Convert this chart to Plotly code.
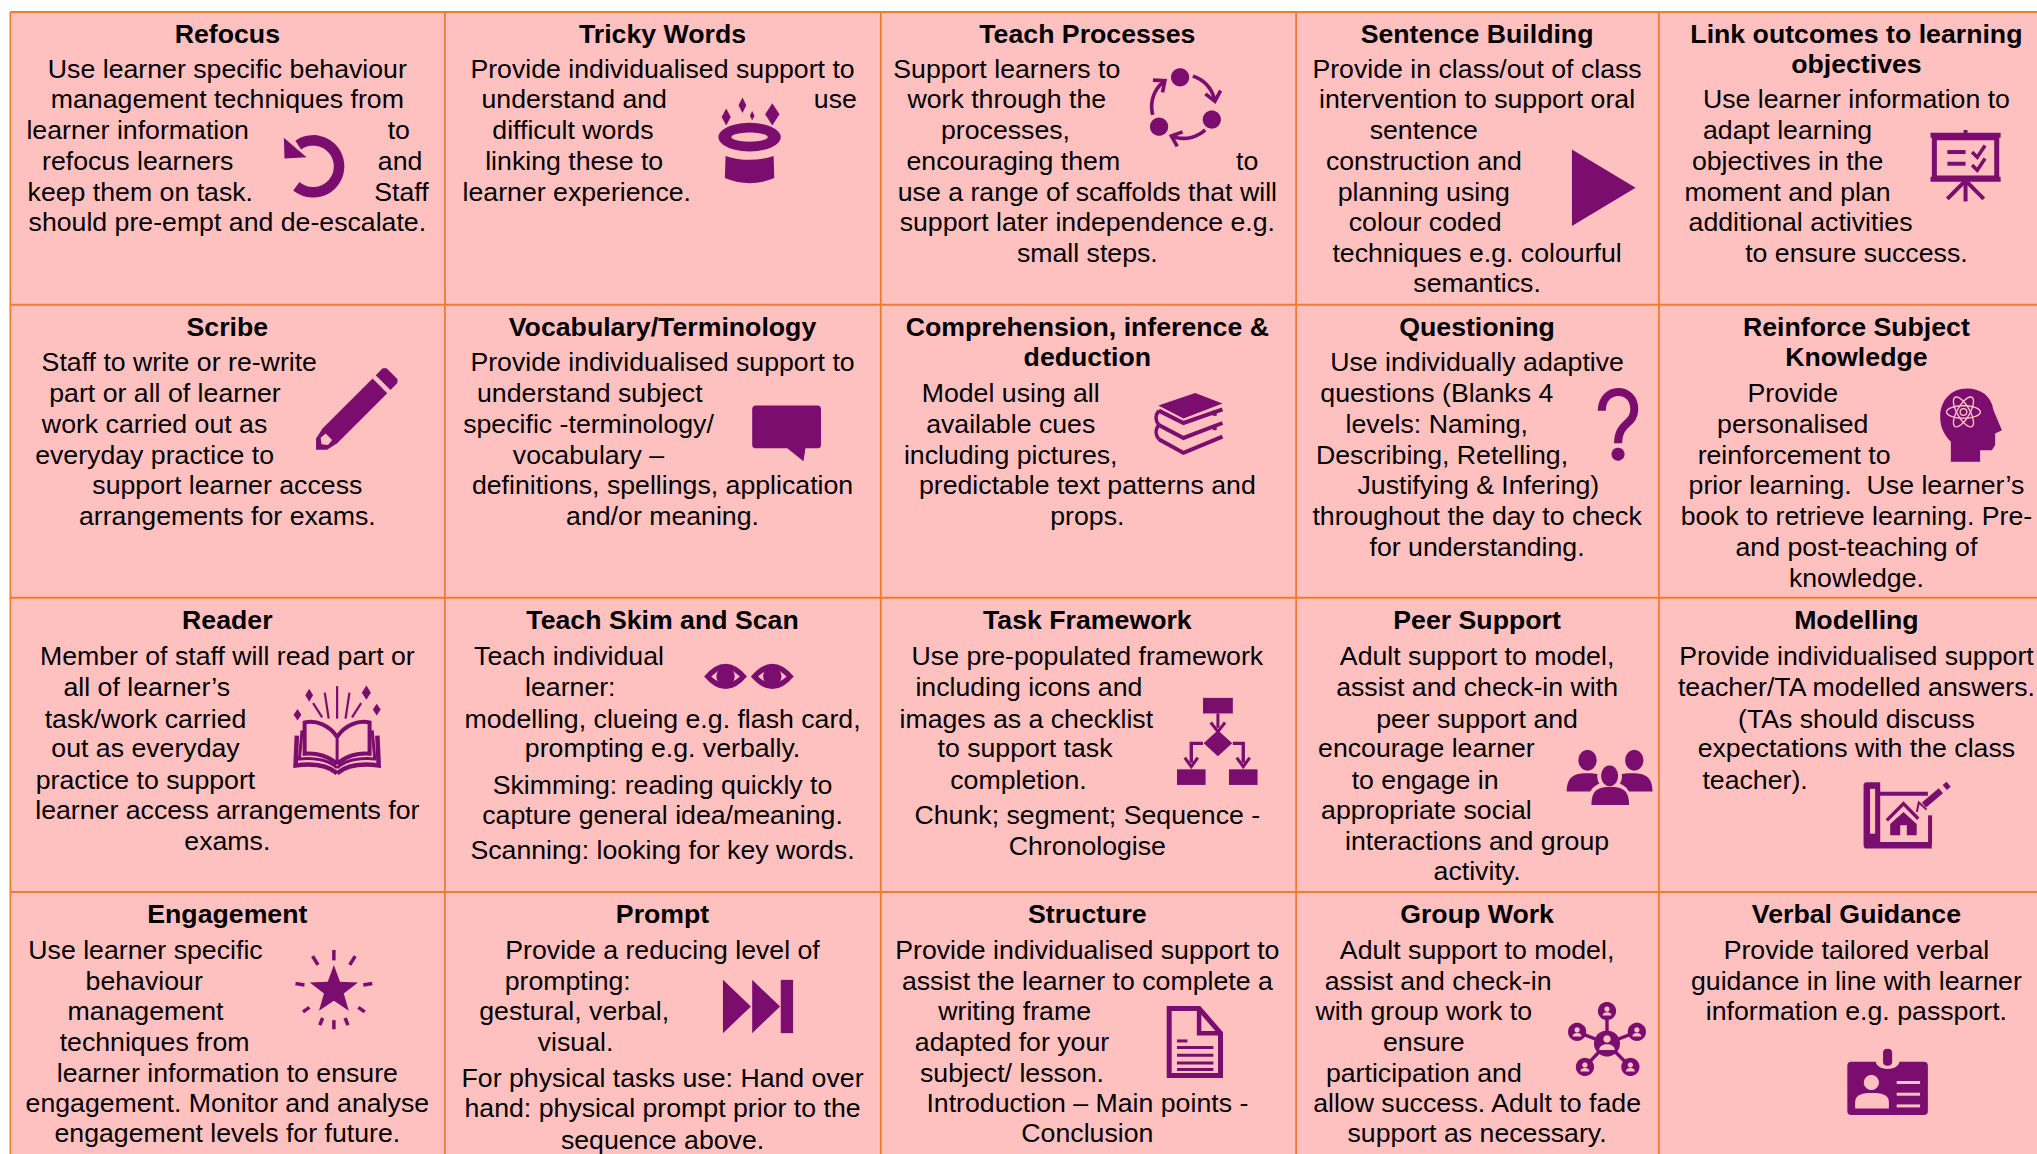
import math
import plotly.graph_objects as go

# ---------- chart content ----------
TITLES = [
    ["Refocus"], ["Tricky Words"], ["Teach Processes"], ["Sentence Building"], ["Link outcomes to learning", "objectives"],
    ["Scribe"], ["Vocabulary/Terminology"], ["Comprehension, inference &", "deduction"], ["Questioning"], ["Reinforce Subject", "Knowledge"],
    ["Reader"], ["Teach Skim and Scan"], ["Task Framework"], ["Peer Support"], ["Modelling"],
    ["Engagement"], ["Prompt"], ["Structure"], ["Group Work"], ["Verbal Guidance"],
]
BODY = [
    ["Use learner specific behaviour", "management techniques from", "learner information", "to", "refocus learners", "and", "keep them on task.", "Staff", "should pre-empt and de-escalate."],
    ["Provide individualised support to", "understand and", "use", "difficult words", "linking these to", "learner experience."],
    ["Support learners to", "work through the", "processes,", "encouraging them", "to", "use a range of scaffolds that will", "support later independence e.g.", "small steps."],
    ["Provide in class/out of class", "intervention to support oral", "sentence", "construction and", "planning using", "colour coded", "techniques e.g. colourful", "semantics."],
    ["Use learner information to", "adapt learning", "objectives in the", "moment and plan", "additional activities", "to ensure success."],
    ["Staff to write or re-write", "part or all of learner", "work carried out as", "everyday practice to", "support learner access", "arrangements for exams."],
    ["Provide individualised support to", "understand subject", "specific -terminology/", "vocabulary –", "definitions, spellings, application", "and/or meaning."],
    ["Model using all", "available cues", "including pictures,", "predictable text patterns and", "props."],
    ["Use individually adaptive", "questions (Blanks 4", "levels: Naming,", "Describing, Retelling,", "Justifying & Infering)", "throughout the day to check", "for understanding."],
    ["Provide", "personalised", "reinforcement to", "prior learning.  Use learner’s", "book to retrieve learning. Pre-", "and post-teaching of", "knowledge."],
    ["Member of staff will read part or", "all of learner’s", "task/work carried", "out as everyday", "practice to support", "learner access arrangements for", "exams."],
    ["Teach individual", "learner:", "modelling, clueing e.g. flash card,", "prompting e.g. verbally.", "Skimming: reading quickly to", "capture general idea/meaning.", "Scanning: looking for key words."],
    ["Use pre-populated framework", "including icons and", "images as a checklist", "to support task", "completion.", "Chunk; segment; Sequence -", "Chronologise"],
    ["Adult support to model,", "assist and check-in with", "peer support and", "encourage learner", "to engage in", "appropriate social", "interactions and group", "activity."],
    ["Provide individualised support", "teacher/TA modelled answers.", "(TAs should discuss", "expectations with the class", "teacher)."],
    ["Use learner specific", "behaviour", "management", "techniques from", "learner information to ensure", "engagement. Monitor and analyse", "engagement levels for future."],
    ["Provide a reducing level of", "prompting:", "gestural, verbal,", "visual.", "For physical tasks use: Hand over", "hand: physical prompt prior to the", "sequence above."],
    ["Provide individualised support to", "assist the learner to complete a", "writing frame", "adapted for your", "subject/ lesson.", "Introduction – Main points -", "Conclusion"],
    ["Adult support to model,", "assist and check-in", "with group work to", "ensure", "participation and", "allow success. Adult to fade", "support as necessary."],
    ["Provide tailored verbal", "guidance in line with learner", "information e.g. passport."],
]

# ---------- placement (in a 1568 x 888 drawing space) ----------
COL_EDGES = [8, 342.5, 678, 997.7, 1277, 1580]
ROW_EDGES = [9.3, 234.6, 460, 686.4, 900]
COL_MID = [175, 510, 837, 1137, 1429]
ROW_Y = [
    [53, 76.5, 100, 124, 147.5, 171, 195, 218],
    [279, 302.5, 326, 350, 373.5, 397, 421, 445],
    [505, 529, 553, 576, 600, 623, 647, 670],
    [731, 755, 778, 802, 825.5, 849, 872, 896],
]
TITLE_Y = [[26, 49], [251.5, 274.5], [477.5, 500], [703.5, 726]]
TEXT_SHIFT = 1.7
# each: (x centre or None for column centre, line index on the row grid or explicit y)
BODY_POS = [
    [(None,0),(None,1),(106,2),(307,2),(106,3),(308,3),(108,4),(309,4),(None,5)],
    [(None,0),(442,1),(643,1),(441,2),(442,3),(444,4)],
    [(775,0),(775,1),(774,2),(780,3),(960,3),(None,4),(None,5),(None,6)],
    [(None,0),(None,1),(1096,2),(1096,3),(1096,4),(1097,5),(None,6),(None,7)],
    [(None,1),(1376,2),(1376,3),(1376,4),(1386,5),(None,6)],
    [(138,0),(127,1),(119,2),(119,3),(None,4),(None,5)],
    [(None,0),(454,1),(453,2),(453,3),(None,4),(None,5)],
    [(778,1),(778,2),(778,3),(None,4),(None,5)],
    [(None,0),(1106,1),(1106,2),(1110,3),(1138,4),(None,5),(None,6)],
    [(1380,1),(1380,2),(1381,3),(None,4),(None,5),(None,6),(None,7)],
    [(None,0),(113,1),(112,2),(112,3),(112,4),(None,5),(None,6)],
    [(438,0),(439,1),(None,2),(None,3),(None,604),(None,627),(None,654)],
    [(None,0),(792,1),(790,2),(789,3),(784,4),(None,627),(None,651)],
    [(None,0),(None,1),(None,2),(1098,3),(1097,4),(1098,5),(None,6),(None,7)],
    [(None,0),(None,1),(None,2),(None,3),(1351,4)],
    [(112,0),(111,1),(112,2),(119,3),(None,4),(None,5),(None,6)],
    [(None,0),(437,1),(442,2),(443,3),(None,829.5),(None,853),(None,877)],
    [(None,0),(None,1),(781,2),(779,3),(779,4),(None,5),(None,6)],
    [(None,0),(1107,1),(1096,2),(1096,3),(1096,4),(None,5),(None,6)],
    [(None,0),(None,1),(None,2)],
]

PINK = "#FFC0C0"
ORANGE = "#ED7D31"
PURPLE = "#7B0D6E"
FONT = "Liberation Sans"
BODY_SIZE = 26.7
TITLE_SIZE = 26.7

shapes = []


def add(path, fill=True, lw=0, color=PURPLE):
    shapes.append(dict(type="path", path=path, xref="x", yref="y", layer="below",
                       fillcolor=color if fill else "rgba(0,0,0,0)",
                       line=dict(color=color, width=lw)))


def poly(pts, close=True):
    return "M " + " L ".join(f"{x:.2f},{y:.2f}" for x, y in pts) + (" Z" if close else "")


def ell(cx, cy, rx, ry=None, rot=0, a0=0, a1=360, n=48, close=True):
    ry = rx if ry is None else ry
    pts = []
    c, s = math.cos(math.radians(rot)), math.sin(math.radians(rot))
    for i in range(n + 1):
        t = math.radians(a0 + (a1 - a0) * i / n)
        x, y = rx * math.cos(t), ry * math.sin(t)
        pts.append((cx + x * c - y * s, cy + x * s + y * c))
    return poly(pts, close)


def diamond(cx, cy, rx, ry):
    return poly([(cx, cy - ry), (cx + rx, cy), (cx, cy + ry), (cx - rx, cy)])


def rect(x0, y0, x1, y1):
    return poly([(x0, y0), (x1, y0), (x1, y1), (x0, y1)])


def seg(x0, y0, x1, y1, lw=3, color=PURPLE):
    add(poly([(x0, y0), (x1, y1)], False), False, lw, color)


# ---------- grid ----------
shapes.append(dict(type="rect", x0=COL_EDGES[0], x1=COL_EDGES[-1], y0=ROW_EDGES[0], y1=ROW_EDGES[-1],
                   xref="x", yref="y", layer="below", fillcolor=PINK, line=dict(width=0)))
for ye in ROW_EDGES[:-1]:
    shapes.append(dict(type="line", x0=COL_EDGES[0], x1=COL_EDGES[-1], y0=ye, y1=ye, xref="x", yref="y",
                       layer="below", line=dict(color=ORANGE, width=2)))
for xe in COL_EDGES[:-1]:
    shapes.append(dict(type="line", x0=xe, x1=xe, y0=ROW_EDGES[0], y1=ROW_EDGES[-1], xref="x", yref="y",
                       layer="below", line=dict(color=ORANGE, width=1.8)))

# ---------- icons ----------
# refocus
add(ell(241, 128, 20, 20, 0, -125, 130, close=False), False, 10.5)
add(poly([(218.5, 106), (219, 122), (236, 121)]))

# magic hat
for d in [(571.5, 81, 3, 6), (594.5, 88, 5.5, 8.5), (559, 90, 3.5, 6.5), (579, 89, 1.8, 3.5)]:
    add(diamond(*d))
add(ell(577, 105.5, 24, 11))
add(ell(577, 105.5, 14, 3.5), color=PINK)
add("M 558.5,120 Q 577,126 595.5,120 L 596,137 Q 577,145 558,137 Z")

# process cycle
for c in [(908.4, 59.5), (932.8, 92), (892.2, 97.5)]:
    add(ell(c[0], c[1], 7))
for a0, a1 in [(-73, -12), (47, 110), (165, 232)]:
    add(ell(911, 82, 24.5, 24.5, 0, a0, a1, n=14, close=False), False, 3.6)
    t = math.radians(a1)
    ex, ey = 911 + 24.5 * math.cos(t), 82 + 24.5 * math.sin(t)
    tx_, ty_ = -math.sin(t), math.cos(t)
    nx, ny = math.cos(t), math.sin(t)
    add(poly([(ex - 6 * tx_ + 6 * nx, ey - 6 * ty_ + 6 * ny), (ex + tx_, ey + ty_), (ex - 6 * tx_ - 6 * nx, ey - 6 * ty_ - 6 * ny)], False), False, 3.6)

# play
add(poly([(1210, 115), (1259, 144.5), (1210, 174)]))

# presentation
add(rect(1489, 106, 1537, 137), False, 5)
seg(1486, 104, 1540, 104, 5)
seg(1486, 138, 1540, 138, 5)
seg(1513, 100, 1513, 104, 4)
seg(1513, 139, 1513, 155, 4)
seg(1512, 140, 1499, 153, 4)
seg(1514, 140, 1527, 153, 4)
seg(1499, 117, 1513, 117, 4)
seg(1499, 126, 1513, 126, 4)
add(poly([(1518, 117), (1522, 121), (1528, 112)], False), False, 3.5)
add(poly([(1518, 127), (1522, 131), (1528, 122)], False), False, 3.5)


# scribe pencil
def P(t, w, tx0=243.3, ty0=346):
    dx, dy = math.sqrt(.5), -math.sqrt(.5)
    nx, ny = math.sqrt(.5), math.sqrt(.5)
    return (tx0 + t * dx + w * nx, ty0 + t * dy + w * ny)


add(poly([P(0, 0), P(6, 6), P(15, 8), P(69.5, 8), P(69.5, -8), P(15, -8), P(6, -6)]))
add(poly([P(73, 8), P(80.5, 8), P(82.7, 6), P(82.7, -6), P(80.5, -8), P(73, -8)]))
add(poly([P(6, 0), P(9, 4), P(14, 3.5), P(14, -3.5), P(9, -4)]), color=PINK)

# speech bubble
add("M 582,312 L 629,312 Q 632,312 632,315 L 632,342 Q 632,345 629,345 L 620,345 L 618.5,355 L 606,345 L 582,345 Q 579,345 579,342 L 579,315 Q 579,312 582,312 Z")

# books
add(poly([(891.7, 312), (920, 302.4), (941, 310.4), (911, 322)]))
for a, b, c in [(316, 325.5, 315), (327, 337, 325.5), (338, 348.5, 336)]:
    add(poly([(892, a), (911, b), (941, c)], False), False, 4)
add("M 892,316 C 889,320 889,323 892,327", False, 3.6)
add("M 892,327 C 889,331 889,334 892,338", False, 3.6)
seg(935, 316, 935, 320, 4)
seg(935, 327, 935, 331, 4)

# question mark
add("M 1233,316 C 1233,297 1258,297 1258,315 C 1258,327 1245.5,325 1245.5,341", False, 8)
add(ell(1245.5, 349.5, 5))

# head with atom
add("M 1501.7,355.4 L 1501.7,340 C 1496,334 1493.5,328 1493.5,320.8 C 1493.5,308 1502,299 1514,299 C 1525,299 1533,305 1534.5,315.6 "
    "L 1541,331 L 1535.8,333.6 L 1535.8,342.6 L 1533.2,346.4 L 1524.2,346.4 L 1524.2,355.4 Z")
for rot in (0, 60, 120):
    add(ell(1511.4, 317, 13, 4.8, rot), False, 1.4, PINK)
add(ell(1511.4, 317, 2.6), False, 1.4, PINK)

# open book
for s in (-1, 1):
    cx = 259.5
    add(f"M {cx},567 C {cx+s*6},558 {cx+s*16},554 {cx+s*25},556 L {cx+s*25},580 C {cx+s*16},579 {cx+s*6},582 {cx},588", False, 4)
    add(f"M {cx+s*27},562 L {cx+s*29},584 C {cx+s*16},583 {cx+s*6},585 {cx},591", False, 3)
    add(f"M {cx+s*31},566 L {cx+s*32},589 C {cx+s*16},587 {cx+s*6},590 {cx},595", False, 4.5)
seg(259.5, 567, 259.5, 588, 3)
for x0, y0, x1, y1 in [(259.5, 528, 259.5, 553), (250, 533, 253, 553), (269, 533, 266, 553), (241, 541, 248, 552), (278, 541, 271, 552)]:
    seg(x0, y0, x1, y1, 2.2)
for d in [(238, 535, 3, 5), (282, 533, 3.5, 5.5), (229, 550, 3, 4.5), (290, 546, 3, 4.5)]:
    add(diamond(*d))

# eyes
for cx in (558.5, 594.5):
    add(f"M {cx-16.5},520.5 Q {cx},501 {cx+16.5},520.5 Q {cx},540 {cx-16.5},520.5 Z")
    add(f"M {cx-11},520.5 Q {cx},510 {cx+11},520.5 Q {cx},531 {cx-11},520.5 Z", color=PINK)
    add(ell(cx, 520.5, 7))

# flowchart
add(rect(926, 537, 949, 549))
seg(937.5, 549, 937.5, 560, 3)
add(poly([(932, 556), (937.5, 563), (943, 556)], False), False, 3)
add(diamond(937.5, 572, 11, 10))
add(poly([(926, 572), (917, 572), (917, 587)], False), False, 3.4)
add(poly([(949, 572), (957, 572), (957, 587)], False), False, 3.4)
add(poly([(912, 583), (917, 590), (922, 583)], False), False, 3)
add(poly([(952, 583), (957, 590), (962, 583)], False), False, 3)
add(rect(906, 592, 928, 604))
add(rect(946, 592, 968, 604))

# people
for hx, bx in [(1222, 1222), (1258, 1256)]:
    add(ell(hx, 585, 7, 8))
    add(f"M {bx-16},609 C {bx-16},596 {bx-8},595 {bx},595 C {bx+8},595 {bx+16},596 {bx+16},609 Z")
add(f"M 1222,620 C 1222,605 1230,602 1239,602 C 1248,602 1256,605 1256,620 Z", color=PINK)
add(ell(1239, 597, 9.5, 11), color=PINK)
add(ell(1239, 597, 6.5, 8))
add("M 1225,619.5 C 1225,607 1231,605.5 1239.5,605.5 C 1248,605.5 1254,607 1254,619.5 Z")

# plan with house
add("M 1437,602 L 1447.3,602 L 1447.3,648 L 1487,648 L 1487,653 L 1437,653 Q 1434.5,653 1434.5,650 L 1434.5,604.5 Q 1434.5,602 1437,602 Z")
add(rect(1439.5, 607, 1443.4, 641.5), color=PINK)
seg(1447, 610.7, 1484, 610.7, 4)
seg(1485.7, 627.4, 1485.7, 650, 4)
add(poly([(1452.4, 631.3), (1465.2, 618.4), (1476.6, 630)], False), False, 3.4)
add(poly([(1465.2, 624.8), (1475.4, 634), (1475.4, 642.8), (1467.8, 642.8), (1467.8, 635), (1462.7, 635), (1462.7, 642.8), (1455, 642.8), (1455, 634)]))
seg(1481, 619.5, 1494, 608.5, 6.5)
seg(1497, 606, 1500, 603.5, 6.5)
add(poly([(1475.5, 624.8), (1477, 617.5), (1483, 623)], False), False, 2)

# star burst
star = []
for i in range(10):
    r = 19.5 if i % 2 == 0 else 8
    a = math.radians(-90 + 36 * i)
    star.append((257 + r * math.cos(a), 762 + r * math.sin(a)))
add(poly(star))
for ang, r0, r1 in [(0, 23, 31), (32, 23, 31), (-32, 23, 31), (80, 23, 30), (-80, 23, 30), (125, 23, 29), (-125, 23, 29),
                    (158, 23, 29), (-158, 23, 29), (180, 23, 30)]:
    a = math.radians(ang - 90)
    seg(257 + r0 * math.cos(a), 762 + r0 * math.sin(a), 257 + r1 * math.cos(a), 762 + r1 * math.sin(a), 3.5)

# skip forward
add(poly([(556.5, 754), (578, 774.5), (556.5, 795)]))
add(poly([(579, 754), (600.5, 774.5), (579, 795)]))
add(rect(601, 754, 610.5, 795))

# document
add(poly([(900, 776), (923, 776), (939.5, 795), (939.5, 827.5), (900, 827.5)]), False, 5)
add(poly([(923, 776), (923, 795), (939.5, 795)], False), False, 4.5)
seg(906, 801, 914, 801, 3)
for yy in (806, 812, 818, 823):
    seg(906, yy, 934, yy, 3)

# network
sats = [(1237, 778), (1214, 794), (1260, 794), (1220, 821), (1255, 821)]
for sx, sy in sats:
    seg(1237, 803, sx, sy, 3.4)
for sx, sy in sats:
    add(ell(sx, sy, 7))
    add(ell(sx, sy - 1.5, 2), color=PINK)
    add(f"M {sx-3.5},{sy+3.5} C {sx-3.5},{sy} {sx+3.5},{sy} {sx+3.5},{sy+3.5} Z", color=PINK)
add(ell(1237, 803, 10))
add(ell(1237, 799.5, 2.8), color=PINK)
add("M 1231,808 C 1231,802 1243,802 1243,808 Z", color=PINK)

# ID badge
add("M 1425,817 L 1481,817 Q 1484,817 1484,820 L 1484,855 Q 1484,858 1481,858 L 1425,858 Q 1422,858 1422,855 L 1422,820 Q 1422,817 1425,817 Z")
add(ell(1453, 817, 9, 5.5), color=PINK)
add("M 1449.5,810 Q 1449.5,807 1453,807 Q 1456.5,807 1456.5,810 L 1456.5,817 Q 1456.5,820 1453,820 Q 1449.5,820 1449.5,817 Z")
add(ell(1440.5, 833, 5.8), color=PINK)
add("M 1428,853 L 1428,848 C 1428,842 1434,841 1441,841 C 1448,841 1454,842 1454,848 L 1454,853 Z", color=PINK)
for yy in (833, 842, 851):
    seg(1460, yy, 1478, yy, 3, PINK)

# ---------- text traces ----------
tx, ty, tt = [], [], []
bx, by, bt = [], [], []
for i, (title, lines, pos) in enumerate(zip(TITLES, BODY, BODY_POS)):
    r, c = divmod(i, 5)
    for k, line in enumerate(title):
        tx.append(COL_MID[c]); ty.append(TITLE_Y[r][k] + TEXT_SHIFT); tt.append(line)
    for line, (px, py) in zip(lines, pos):
        bx.append(COL_MID[c] if px is None else px)
        by.append((ROW_Y[r][py] if py < 20 else py) + TEXT_SHIFT)
        bt.append(line)

fig = go.Figure()
fig.add_trace(go.Scatter(x=bx, y=by, text=bt, mode="text", textposition="middle center", cliponaxis=False,
                         textfont=dict(family=FONT, size=BODY_SIZE, color="#000000"), hoverinfo="skip", showlegend=False))
fig.add_trace(go.Scatter(x=tx, y=ty, text=[f"<b>{t}</b>" for t in tt], mode="text", textposition="middle center", cliponaxis=False,
                         textfont=dict(family=FONT, size=TITLE_SIZE, color="#000000"), hoverinfo="skip", showlegend=False))

fig.update_layout(
    width=2037, height=1154, autosize=False,
    margin=dict(l=0, r=0, t=0, b=0, pad=0),
    paper_bgcolor="#FFFFFF", plot_bgcolor="#FFFFFF",
    xaxis=dict(range=[0, 1568], visible=False, fixedrange=True),
    yaxis=dict(range=[888, 0], visible=False, fixedrange=True),
    shapes=shapes,
)
fig.write_html("out.html", config=dict(displayModeBar=False),
               post_script="document.body.style.margin='0';document.body.style.overflow='hidden';")
